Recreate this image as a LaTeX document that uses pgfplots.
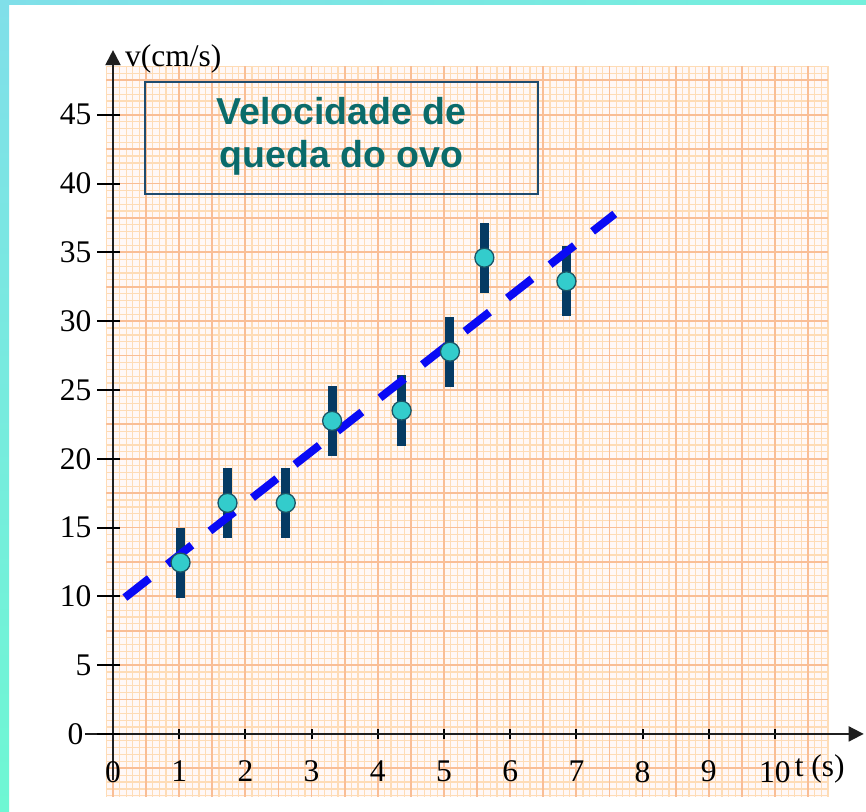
\documentclass[border=0pt]{standalone}
\usepackage{fontspec}
\setmainfont{Liberation Serif}
\newfontfamily\titlefont{Liberation Sans}
\usepackage{pgfplots}
\usepackage{pgfplotstable}
\pgfplotsset{compat=1.18}
\usetikzlibrary{arrows.meta}
\definecolor{paperbg}{HTML}{FFF8F7}
\definecolor{minorline}{HTML}{FEDCB6}
\definecolor{majorline}{HTML}{F9BE96}
\definecolor{barcol}{HTML}{053A63}
\definecolor{markfill}{HTML}{33CCCC}
\definecolor{markdraw}{HTML}{1B5566}
\definecolor{fitblue}{HTML}{0A0AF5}
\definecolor{titlecol}{HTML}{0B6B6B}
\definecolor{boxcol}{HTML}{1E4B6E}
\definecolor{cyanA}{HTML}{80DFE9}
\definecolor{cyanB}{HTML}{74F0DC}
\definecolor{cyanC}{HTML}{6EF7D3}

\pgfplotstableread{
x y e
1.02 12.45 2.55
1.73 16.79 2.55
2.61 16.79 2.55
3.31 22.75 2.55
4.36 23.50 2.55
5.09 27.78 2.55
5.61 34.61 2.55
6.85 32.90 2.55
}\datatable

\newcommand{\tickfont}{\fontsize{31.5bp}{32bp}\selectfont}

\begin{document}
\begin{tikzpicture}
\begin{axis}[
  x=66.2bp, y=13.76bp,
  xmin=-0.42, xmax=11.34, ymin=-3.34, ymax=49.7,
  axis lines=middle,
  axis on top,
  clip=false,
  axis line style={line width=2bp, draw=black!88},
  every inner x axis line/.append style={-{Triangle[length=15bp,width=15bp]}},
  every inner y axis line/.append style={-{Triangle[length=15bp,width=15bp]}},
  xtick={0,...,10},
  ytick=\empty,
  extra y ticks={0,5,...,45},
  extra y tick labels={0\hspace*{8bp},5,10,15,20,25,30,35,40,45},
  extra tick style={major tick length=23bp, tick style={line width=2bp, black, xshift=-4.5bp}},
  major tick length=10bp,
  tick align=center,
  tick style={line width=2bp, black},
  hide obscured x ticks=false,
  hide obscured y ticks=false,
  /pgf/number format/assume math mode=true,
  xticklabel style={font=\tickfont, anchor=north, inner sep=0pt, yshift=-22bp},
  yticklabel style={font=\tickfont, anchor=east, inner sep=0pt, xshift=-10bp},
  xlabel={t (s)}, ylabel={v(cm/s)},
  every axis x label/.style={at={(axis description cs:0.9112,0.00405)}, anchor=base west, inner sep=0pt, font=\tickfont},
  every axis y label/.style={at={(axis description cs:0.0510,0.9774)}, anchor=base west, inner sep=0pt, font=\tickfont},
]
% page background and frame
\fill[white] (axis cs:-1.707,-5.669) rectangle (axis cs:11.375,53.34);
\shade[top color=cyanA, bottom color=cyanC] (axis cs:-1.707,-5.669) rectangle (axis cs:-1.571,53.34);
\shade[left color=cyanA, right color=cyanB] (axis cs:-1.707,52.98) rectangle (axis cs:11.375,53.34);
% graph paper
\fill[paperbg] (axis cs:-0.1,-4.58) rectangle (axis cs:10.8,48.55);
\pgfplotsinvokeforeach{-1,...,108}{\draw[minorline, line width=1.2bp] (axis cs:#1*0.1,-4.58) -- (axis cs:#1*0.1,48.55);}
\pgfplotsinvokeforeach{-9,...,97}{\draw[minorline, line width=1.2bp] (axis cs:-0.1,#1*0.5) -- (axis cs:10.8,#1*0.5);}
\pgfplotsinvokeforeach{0,...,21}{\draw[majorline, line width=1.8bp] (axis cs:#1*0.5,-4.58) -- (axis cs:#1*0.5,48.55);}
\pgfplotsinvokeforeach{-1,...,19}{\draw[majorline, line width=1.8bp] (axis cs:-0.1,#1*2.5) -- (axis cs:10.8,#1*2.5);}
% title box
\draw[boxcol, line width=2bp] (axis cs:0.483,39.24) rectangle (axis cs:6.42,47.38);
\node[anchor=base, inner sep=0pt, text=titlecol, font=\titlefont\bfseries\fontsize{37.5bp}{43bp}\selectfont] at (axis cs:3.452,44.31) {Velocidade de};
\node[anchor=base, inner sep=0pt, text=titlecol, font=\titlefont\bfseries\fontsize{37.5bp}{43bp}\selectfont] at (axis cs:3.452,41.16) {queda do ovo};
% data
\addplot[only marks, mark=*, mark size=9.5bp,
  mark options={fill=markfill, draw=markdraw, line width=1.3bp},
  error bars/.cd, y dir=both, y explicit, error mark=none,
  error bar style={line width=9bp, barcol}]
  table[x=x, y=y, y error=e] {\datatable};
\addplot[fitblue, line width=8bp, dash pattern=on 31bp off 23bp] coordinates {(0.18,9.91) (7.58,37.79)};
\end{axis}
\end{tikzpicture}
\end{document}
